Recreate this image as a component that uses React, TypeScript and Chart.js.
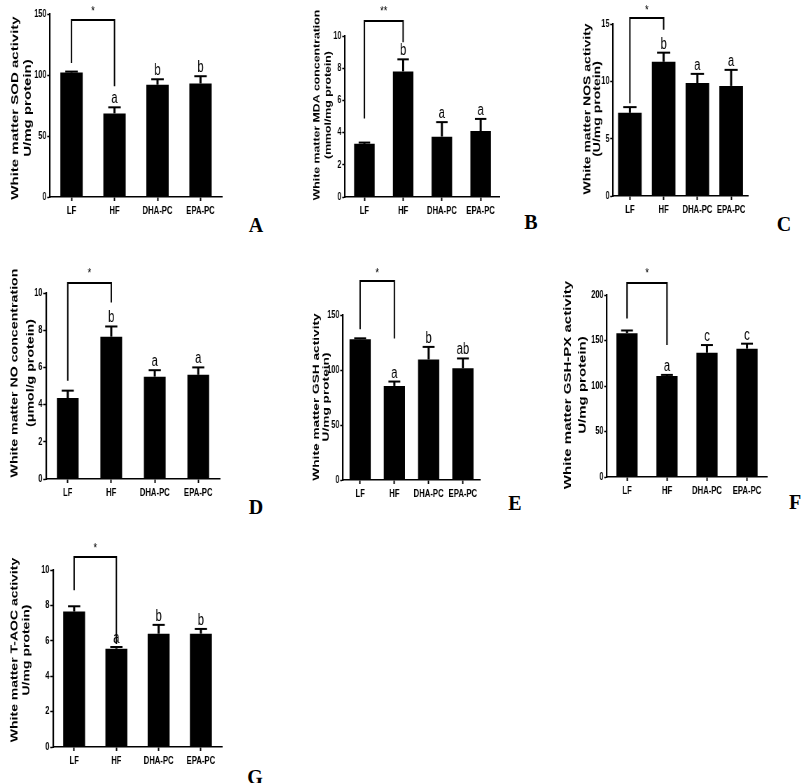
import React, { useEffect, useRef } from 'react';
import { Chart, registerables } from 'chart.js';

Chart.register(...registerables);

// ---------- data ----------
const categories = ['LF', 'HF', 'DHA-PC', 'EPA-PC'];

const sodMean = [102, 68.5, 92, 93];
const sodErr = [0.8, 5, 4.5, 6];
const sodLetters = ['', 'a', 'b', 'b'];

const mdaMean = [3.3, 7.8, 3.75, 4.1];
const mdaErr = [0.08, 0.75, 0.9, 0.75];
const mdaLetters = ['', 'b', 'a', 'a'];

const nosMean = [7.25, 11.7, 9.85, 9.6];
const nosErr = [0.5, 0.8, 0.8, 1.4];
const nosLetters = ['', 'b', 'a', 'a'];

const noMean = [4.35, 7.65, 5.5, 5.6];
const noErr = [0.4, 0.55, 0.35, 0.4];
const noLetters = ['', 'b', 'a', 'a'];

const gshMean = [128, 85.5, 109.5, 101.5];
const gshErr = [0.8, 4, 11.5, 9];
const gshLetters = ['', 'a', 'b', 'ab'];

const gshpxMean = [158, 111, 136.5, 141];
const gshpxErr = [3, 1.2, 8.5, 5.5];
const gshpxLetters = ['', 'a', 'c', 'c'];

const taocMean = [7.65, 5.55, 6.4, 6.4];
const taocErr = [0.3, 0.1, 0.5, 0.27];
const taocLetters = ['', 'a', 'b', 'b'];

const significance = ['*', '**', '*', '*', '*', '*', '*'];
const yMaxes = [150, 10, 15, 10, 150, 200, 10];
const ySteps = [50, 2, 5, 2, 50, 50, 2];

// ---------- layout / style ----------
const S = 0.7; // horizontal compression of the panels
const FONT = "'Liberation Sans', Arial, Helvetica, sans-serif";

type Panel = {
  letter: string;
  title: string[];
  titleSize: number;
  mean: number[];
  err: number[];
  groupLetters: string[];
  sig: string;
  yMax: number;
  yStep: number;
  L: number; T: number; W: number; H: number;
  axisX: number; xEnd: number; yTop: number; yZero: number;
  t1: number; t2: number; tcy: number;
  bracketY: number; starY: number; gapL: number; gapR: number;
  barPct: number;
  lx: number; ly: number;
};

const panels: Panel[] = [
  {
    letter: 'A', title: ['White matter SOD activity', 'U/mg protein)'], titleSize: 15,
    mean: sodMean, err: sodErr, groupLetters: sodLetters, sig: significance[0], yMax: yMaxes[0], yStep: ySteps[0],
    L: 0, T: 0, W: 235, H: 222, axisX: 50, xEnd: 222, yTop: 14, yZero: 197,
    t1: 15, t2: 28, tcy: 108, bracketY: 20, starY: 8, gapL: 8.6, gapR: 8, barPct: 0.52, lx: 256, ly: 225,
  },
  {
    letter: 'B', title: ['White matter MDA concentration', '(mmol/mg protein)'], titleSize: 12.3,
    mean: mdaMean, err: mdaErr, groupLetters: mdaLetters, sig: significance[1], yMax: yMaxes[1], yStep: ySteps[1],
    L: 295, T: 0, W: 215, H: 222, axisX: 345, xEnd: 500, yTop: 36, yZero: 197,
    t1: 317, t2: 328, tcy: 105, bracketY: 21, starY: 8, gapL: 24, gapR: 1, barPct: 0.53, lx: 531, ly: 222,
  },
  {
    letter: 'C', title: ['White matter NOS activity', '(U/mg protein)'], titleSize: 14,
    mean: nosMean, err: nosErr, groupLetters: nosLetters, sig: significance[2], yMax: yMaxes[2], yStep: ySteps[2],
    L: 575, T: 0, W: 185, H: 222, axisX: 613, xEnd: 748, yTop: 24, yZero: 196,
    t1: 588, t2: 597.5, tcy: 109, bracketY: 18, starY: 7, gapL: 4, gapR: 7, barPct: 0.7, lx: 784, ly: 224,
  },
  {
    letter: 'D', title: ['White matter NO concentration', '(\u03bcmol/g protein)'], titleSize: 14.2,
    mean: noMean, err: noErr, groupLetters: noLetters, sig: significance[3], yMax: yMaxes[3], yStep: ySteps[3],
    L: 0, T: 262, W: 235, H: 245, axisX: 46, xEnd: 220, yTop: 293, yZero: 479,
    t1: 15, t2: 31, tcy: 373, bracketY: 283, starY: 270, gapL: 10, gapR: 8, barPct: 0.5, lx: 256, ly: 507,
  },
  {
    letter: 'E', title: ['White matter GSH activity', 'U/mg protein)'], titleSize: 13.7,
    mean: gshMean, err: gshErr, groupLetters: gshLetters, sig: significance[4], yMax: yMaxes[4], yStep: ySteps[4],
    L: 300, T: 262, W: 190, H: 245, axisX: 343, xEnd: 480, yTop: 315, yZero: 480,
    t1: 316, t2: 326, tcy: 397, bracketY: 281, starY: 270, gapL: 9, gapR: 30, barPct: 0.62, lx: 515, ly: 503,
  },
  {
    letter: 'F', title: ['White matter GSH-PX activity', 'U/mg protein)'], titleSize: 15,
    mean: gshpxMean, err: gshpxErr, groupLetters: gshpxLetters, sig: significance[5], yMax: yMaxes[5], yStep: ySteps[5],
    L: 545, T: 262, W: 235, H: 245, axisX: 607, xEnd: 767, yTop: 295, yZero: 477,
    t1: 568, t2: 583, tcy: 385, bracketY: 283, starY: 270, gapL: 12, gapR: 17, barPct: 0.53, lx: 795, ly: 502,
  },
  {
    letter: 'G', title: ['White matter T-AOC activity', 'U/mg protein)'], titleSize: 14,
    mean: taocMean, err: taocErr, groupLetters: taocLetters, sig: significance[6], yMax: yMaxes[6], yStep: ySteps[6],
    L: 0, T: 535, W: 235, H: 248, axisX: 53, xEnd: 222, yTop: 570, yZero: 747,
    t1: 15, t2: 27, tcy: 650, bracketY: 557, starY: 545, gapL: 16, gapR: -10, barPct: 0.52, lx: 255, ly: 777,
  },
];

function makeAnnot(p: Panel) {
  return {
    id: 'annot' + p.letter,
    afterDatasetsDraw(chart: any) {
      const ctx = chart.ctx as CanvasRenderingContext2D;
      const meta = chart.getDatasetMeta(0);
      const y = chart.scales.y;
      ctx.save();
      ctx.strokeStyle = '#000';
      ctx.fillStyle = '#000';
      const letterTops: number[] = [];
      meta.data.forEach((el: any, i: number) => {
        const top = y.getPixelForValue(p.mean[i] + p.err[i]);
        const half = el.width * 0.28;
        ctx.lineWidth = 3;
        ctx.beginPath();
        ctx.moveTo(el.x, el.y);
        ctx.lineTo(el.x, top);
        ctx.stroke();
        ctx.lineWidth = 2;
        ctx.beginPath();
        ctx.moveTo(el.x - half, top);
        ctx.lineTo(el.x + half, top);
        ctx.stroke();
        const lt = p.groupLetters[i];
        ctx.font = `16px ${FONT}`;
        ctx.textAlign = 'center';
        ctx.textBaseline = 'alphabetic';
        const baseY = top - 4;
        if (lt) {
          ctx.fillText(lt, el.x, baseY);
          const m = ctx.measureText(lt);
          letterTops[i] = baseY - m.actualBoundingBoxAscent;
        } else {
          letterTops[i] = top;
        }
      });
      const e0 = meta.data[0];
      const e1 = meta.data[1];
      const capL = y.getPixelForValue(p.mean[0] + p.err[0]);
      const by = p.bracketY - p.T;
      ctx.lineWidth = 2;
      ctx.lineJoin = 'miter';
      ctx.beginPath();
      ctx.moveTo(e0.x, capL - p.gapL);
      ctx.lineTo(e0.x, by);
      ctx.lineTo(e1.x, by);
      ctx.lineTo(e1.x, letterTops[1] - p.gapR);
      ctx.stroke();
      ctx.font = `13px ${FONT}`;
      ctx.textAlign = 'center';
      ctx.textBaseline = 'alphabetic';
      const m = ctx.measureText(p.sig);
      const cy = p.starY - p.T;
      const bl = cy + (m.actualBoundingBoxAscent - m.actualBoundingBoxDescent) / 2;
      ctx.fillText(p.sig, (e0.x + e1.x) / 2, bl);

      // rotated y-axis title (two lines)
      ctx.font = `bold ${p.titleSize}px ${FONT}`;
      ctx.textAlign = 'center';
      ctx.textBaseline = 'middle';
      const xs = [p.t1, p.t2];
      p.title.forEach((line, i) => {
        ctx.save();
        ctx.translate((xs[i] - p.L) / S, p.tcy - p.T);
        ctx.rotate(-Math.PI / 2);
        ctx.fillText(line, 0, 0);
        ctx.restore();
      });
      ctx.restore();
    },
  };
}

function PanelChart({ p }: { p: Panel }) {
  const ref = useRef<HTMLCanvasElement>(null);
  const Wint = Math.round(p.W / S);
  useEffect(() => {
    if (!ref.current) return;
    const left = (p.axisX - p.L) / S;
    const right = (p.xEnd - p.L) / S;
    const padRight = Wint - right;
    const padTop = p.yTop - p.T;
    const xH = p.H - (p.yZero - p.T);
    const chart = new Chart(ref.current, {
      type: 'bar',
      data: {
        labels: categories,
        datasets: [
          {
            data: p.mean,
            backgroundColor: '#000',
            borderWidth: 0,
            barPercentage: p.barPct,
            categoryPercentage: 1,
          },
        ],
      },
      options: {
        responsive: false,
        animation: false,
        devicePixelRatio: 1,
        layout: { padding: { left: 0, top: padTop, right: padRight, bottom: 0 } },
        plugins: { legend: { display: false }, tooltip: { enabled: false } },
        scales: {
          x: {
            grid: { display: true, drawOnChartArea: false, offset: false, tickLength: 4, tickWidth: 2, tickColor: '#000' },
            border: { display: true, color: '#000', width: 1.5 },
            ticks: {
              color: '#000',
              font: { family: FONT, size: 11, weight: 'bold' },
              padding: 3,
              autoSkip: false,
              maxRotation: 0,
              minRotation: 0,
            },
            afterFit: (sc: any) => {
              sc.height = xH;
            },
          },
          y: {
            min: 0,
            max: p.yMax,
            grid: { display: true, drawOnChartArea: false, tickLength: 4, tickWidth: 1.5, tickColor: '#000' },
            border: { display: true, color: '#000', width: 2.2 },
            ticks: {
              stepSize: p.yStep,
              color: '#000',
              font: { family: FONT, size: 10.5, weight: 'bold' },
              padding: 1,
            },
            title: { display: false },
            afterFit: (sc: any) => {
              sc.width = left;
            },
          },
        },
      } as any,
      plugins: [makeAnnot(p)],
    });
    return () => chart.destroy();
  }, [p]);
  return (
    <canvas
      ref={ref}
      width={Wint}
      height={p.H}
      style={{
        position: 'absolute',
        left: p.L,
        top: p.T,
        width: Wint,
        height: p.H,
        transform: `scaleX(${S})`,
        transformOrigin: '0 0',
      }}
    />
  );
}

export default function App() {
  return (
    <div style={{ position: 'absolute', left: 0, top: 0, width: 803, height: 783, background: '#fff', overflow: 'hidden' }}>
      {panels.map((p) => (
        <React.Fragment key={p.letter}>
          <PanelChart p={p} />
          <div
            style={{
              position: 'absolute',
              left: p.lx,
              top: p.ly,
              transform: 'translate(-50%, -50%)',
              fontFamily: "'Liberation Serif', 'Times New Roman', serif",
              fontWeight: 'bold',
              fontSize: 20,
              lineHeight: 1,
              color: '#000',
            }}
          >
            {p.letter}
          </div>
        </React.Fragment>
      ))}
    </div>
  );
}
